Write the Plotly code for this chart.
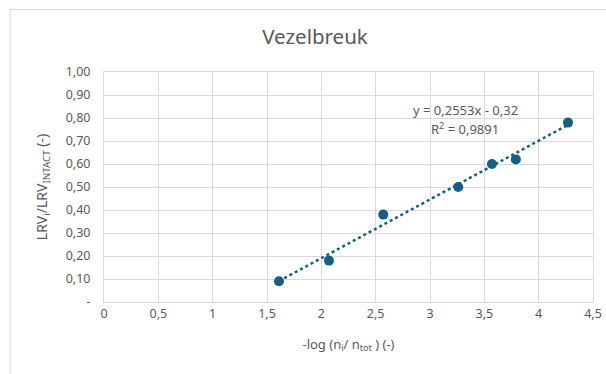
import numpy as np
import plotly.graph_objects as go

# Data
x_vals = [1.61, 2.07, 2.57, 3.26, 3.57, 3.79, 4.27]
y_vals = [0.09, 0.18, 0.38, 0.50, 0.60, 0.62, 0.78]
slope = 0.2553
intercept = -0.32
r2 = 0.9891

x_tickvals = [0, 0.5, 1, 1.5, 2, 2.5, 3, 3.5, 4, 4.5]
x_ticktext = ["0", "0,5", "1", "1,5", "2", "2,5", "3", "3,5", "4", "4,5"]
y_tickvals = [0, 0.1, 0.2, 0.3, 0.4, 0.5, 0.6, 0.7, 0.8, 0.9, 1.0]
y_ticktext = ["-", "0,10", "0,20", "0,30", "0,40", "0,50", "0,60", "0,70", "0,80", "0,90", "1,00"]

title_text = "Vezelbreuk"
x_title = "-log (n<sub>i</sub>/ n<sub>tot</sub> ) (-)"
y_title = "LRV<sub>i</sub>/LRV<sub>INTACT</sub> (-)"

blue = "#156082"
gray_text = "#595959"
grid = "#D9D9D9"
FONT = "Noto Sans"

xf = np.array([min(x_vals), max(x_vals)])
yf = slope * xf + intercept

fig = go.Figure()
fig.add_trace(go.Scatter(x=xf, y=yf, mode="lines",
                         line=dict(color=blue, width=2.5, dash="dot"),
                         showlegend=False, hoverinfo="skip"))
fig.add_trace(go.Scatter(x=x_vals, y=y_vals, mode="markers",
                         marker=dict(color=blue, size=10),
                         showlegend=False))

W, H = 606, 374
ml, mr, mt, mb = 103.5, 12.5, 72, 72
pw = W - ml - mr
ph = H - mt - mb

def px_to_paper_x(px):
    return (px - ml) / pw

def px_to_paper_y(py):
    return (H - mb - py) / ph

eq1 = "y = " + f"{slope:.4f}".replace(".", ",") + "x - " + f"{-intercept:.2f}".replace(".", ",")
eq2 = "R<sup>2</sup> = " + f"{r2:.4f}".replace(".", ",")

fig.update_layout(
    width=W, height=H,
    margin=dict(l=ml, r=mr, t=mt, b=mb, autoexpand=False),
    paper_bgcolor="white", plot_bgcolor="white",
    font=dict(family=FONT, color=gray_text, size=12),
    title=dict(text=title_text, x=(315) / W, xanchor="center",
               y=1 - 37 / H, yanchor="middle",
               font=dict(family=FONT, size=20.5, color=gray_text)),
    xaxis=dict(range=[0, 4.5], tickvals=x_tickvals, ticktext=x_ticktext,
               automargin=False,
               showgrid=True, gridcolor=grid, gridwidth=1,
               showline=True, linecolor=grid, linewidth=1, mirror=True,
               zeroline=False, ticks="", tickfont=dict(size=12.5, color=gray_text),
               title=dict(text=x_title, font=dict(size=13, color=gray_text), standoff=18)),
    yaxis=dict(range=[0, 1.0], tickvals=y_tickvals, ticktext=y_ticktext,
               automargin=False,
               showgrid=True, gridcolor=grid, gridwidth=1,
               showline=True, linecolor=grid, linewidth=1, mirror=True,
               zeroline=False, ticks="", tickfont=dict(size=12.5, color=gray_text),
               ticklabelstandoff=10,
               title=dict(text=y_title, font=dict(size=14, color=gray_text), standoff=14)),
    annotations=[
        dict(x=px_to_paper_x(466), y=px_to_paper_y(110), xref="paper", yref="paper",
             text=eq1, showarrow=False, xanchor="center", yanchor="middle",
             font=dict(size=13, color=gray_text)),
        dict(x=px_to_paper_x(465), y=px_to_paper_y(128), xref="paper", yref="paper",
             text=eq2, showarrow=False, xanchor="center", yanchor="middle",
             font=dict(size=13, color=gray_text)),
    ],
    shapes=[dict(type="rect", xref="paper", yref="paper",
                 x0=px_to_paper_x(9.5), x1=px_to_paper_x(700),
                 y0=px_to_paper_y(450), y1=px_to_paper_y(9.5),
                 line=dict(color=grid, width=1), fillcolor="rgba(0,0,0,0)", layer="below")],
)

fig.write_html("out.html", config={"displayModeBar": False},
               post_script="document.body.style.margin='0';document.body.style.overflow='hidden';")
